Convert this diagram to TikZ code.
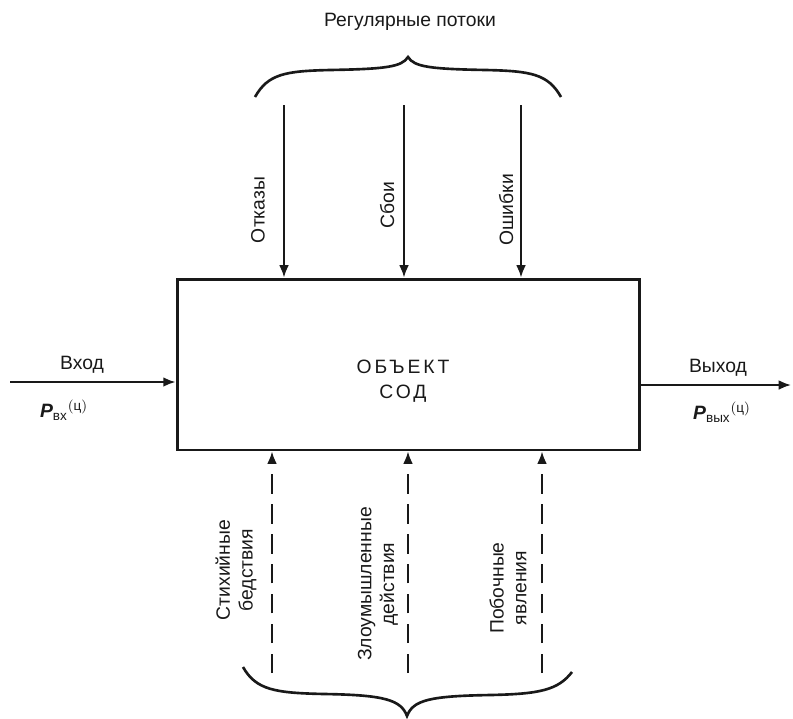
\documentclass[tikz,border=0pt]{standalone}
\usepackage{amsmath}
\usepackage{fontspec}
\setmainfont{Liberation Sans}
\usepackage{tikz}
\usetikzlibrary{arrows.meta, positioning, calc}
\definecolor{mydark}{RGB}{25,25,25}
\tikzset{
  objbox/.style={rectangle, draw=mydark, line width=1.7pt,
    minimum width=9.26cm, minimum height=3.42cm},
  objtext/.style={align=center, text=mydark,
    font=\fontsize{11}{14.5}\selectfont\addfontfeatures{LetterSpace=15}},
  arrow/.style={-{Latex[length=7pt, width=5.5pt]}, line width=1.1pt, color=mydark},
  dasharrow/.style={-{Latex[length=7pt, width=5.5pt]}, line width=1.1pt, color=mydark,
    dash pattern=on 11pt off 6pt},
  brace/.style={line width=1.5pt, color=mydark},
  lbl/.style={font=\fontsize{11}{13}\selectfont, text=mydark},
  vlbl/.style={lbl, rotate=90, align=center}
}
\begin{document}
\begin{tikzpicture}[x=0.02cm, y=-0.02cm]
  \useasboundingbox (0,0) rectangle (793,718);

  % Nodes
  \node[objbox] (obj) at (408.5,364.5) {};
  \node[objtext] (objname) at (403,381) {ОБЪЕКТ\\СОД};
  \node[lbl] (reg) at (410,22) {Регулярные потоки};
  \node[lbl] (vhod) at (82,365) {Вход};
  \node[lbl] (vyhod) at (718,368) {Выход};
  \node[lbl] (pvh) at (64,410) {$\textbf{\textit{P}}_{\text{вх}}{}^{(\text{ц})}$};
  \node[lbl] (pvyh) at (722,412) {$\textbf{\textit{P}}_{\text{вых}}{}^{(\text{ц})}$};

  \node[vlbl] (otk) at (258,210) {Отказы};
  \node[vlbl] (sboi) at (387,205) {Сбои};
  \node[vlbl] (osh) at (506,210) {Ошибки};

  \node[vlbl] (stih) at (236,570) {Стихийные\\бедствия};
  \node[vlbl] (zlo) at (378,584) {Злоумышленные\\действия};
  \node[vlbl] (pob) at (508,588) {Побочные\\явления};

  \coordinate (t1) at (284,105);
  \coordinate (t2) at (404,105);
  \coordinate (t3) at (521,105);
  \coordinate (b1) at (272,673);
  \coordinate (b2) at (408,673);
  \coordinate (b3) at (542,673);
  \coordinate (in) at (10,382);
  \coordinate (out) at (791,385);

  % Arrows
  \foreach \c in {t1,t2,t3}
    \draw[arrow] (\c) -- (\c |- obj.north);
  \foreach \c in {b1,b2,b3}
    \draw[dasharrow] (\c) -- (\c |- obj.south);
  \draw[arrow] (in) -- (in -| obj.west);
  \draw[arrow] (obj.east |- out) -- (out);

  % Braces
  \draw[brace] (255,97) .. controls (268,74) and (285,71) .. (330,70)
    .. controls (385,69) and (402,67) .. (408,57)
    .. controls (414,67) and (431,69) .. (486,70)
    .. controls (531,71) and (548,74) .. (561,97);
  \draw[brace] (243,667) .. controls (256,690) and (275,693) .. (325,694)
    .. controls (385,695) and (401,700) .. (407,716)
    .. controls (413,700) and (430,696) .. (490,695)
    .. controls (540,694) and (558,690) .. (572,672);

\end{tikzpicture}
\end{document}
